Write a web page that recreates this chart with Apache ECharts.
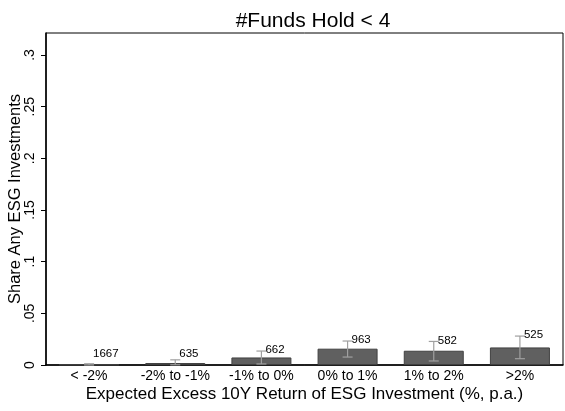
<!DOCTYPE html>
<html><head><meta charset="utf-8">
<script src="https://cdn.jsdelivr.net/npm/echarts@6/dist/echarts.min.js"></script>
<style>html,body{margin:0;padding:0;background:#fff}#c{width:565px;height:411px}</style>
</head><body><div id="c"></div>
<script>
var categories = ['< -2%', '-2% to -1%', '-1% to 0%', '0% to 1%', '1% to 2%', '>2%'];
var shares = [0.0004, 0.0019, 0.0073, 0.0158, 0.0138, 0.0170];
var ciLow = [0.0000, 0.0002, 0.0010, 0.0077, 0.0039, 0.0061];
var ciHigh = [0.0012, 0.0050, 0.0135, 0.0232, 0.0228, 0.0280];
var counts = [1667, 635, 662, 963, 582, 525];
var yTicks = [0, 0.05, 0.1, 0.15, 0.2, 0.25, 0.3];

var chart = echarts.init(document.getElementById('c'));
var font = 'Liberation Sans, Arial, sans-serif';
var errData = categories.map(function (c, i) { return [i, ciLow[i], ciHigh[i], counts[i]]; });

chart.setOption({
  animation: false,
  title: { text: '#Funds Hold < 4', left: 308, top: 6, textAlign: 'center',
    textStyle: { fontFamily: font, fontSize: 21, fontWeight: 'normal', color: '#000' } },
  grid: { left: 46, right: 2, top: 33, bottom: 46, show: true, borderColor: '#000', borderWidth: 1,
    outerBoundsMode: 'none', containLabel: false },
  xAxis: {
    type: 'category', data: categories,
    axisLine: { lineStyle: { color: '#000', width: 1.5 } },
    axisTick: { show: false },
    axisLabel: { fontFamily: font, fontSize: 14, color: '#000', margin: 4, interval: 0 },
    name: 'Expected Excess 10Y Return of ESG Investment (%, p.a.)',
    nameLocation: 'middle', nameGap: 21, nameMoveOverlap: false,
    nameTextStyle: { fontFamily: font, fontSize: 17, color: '#000' }
  },
  yAxis: {
    type: 'value', min: 0, max: 0.3213, interval: 0.05,
    axisLine: { show: true, lineStyle: { color: '#000', width: 1.5 } },
    axisTick: { show: true, inside: false, length: 5, lineStyle: { color: '#000' },
      customValues: yTicks },
    splitLine: { show: false },
    axisLabel: { fontFamily: font, fontSize: 14, color: '#000', rotate: 90, margin: 9,
      customValues: yTicks,
      formatter: function (v) { return v === 0 ? '0' : String(+v.toFixed(2)).replace(/^0/, ''); } },
    name: 'Share Any ESG Investments', nameLocation: 'middle', nameGap: 22, nameMoveOverlap: false,
    nameTextStyle: { fontFamily: font, fontSize: 16.5, color: '#000' }
  },
  series: [
    { type: 'bar', data: shares, barWidth: 60,
      itemStyle: { color: '#606060', borderColor: '#404040', borderWidth: 1 } },
    { type: 'custom', data: errData, z: 5,
      renderItem: function (params, api) {
        var i = api.value(0);
        var lo = api.coord([i, api.value(1)]);
        var hi = api.coord([i, api.value(2)]);
        var lab = api.coord([i, Math.max(api.value(2), 0.0095)]);
        var w = 5;
        return { type: 'group', children: [
          { type: 'line', shape: { x1: lo[0], y1: lo[1], x2: hi[0], y2: hi[1] }, style: { stroke: '#a0a0a0', lineWidth: 1.2 } },
          { type: 'line', shape: { x1: lo[0] - w, y1: lo[1], x2: lo[0] + w, y2: lo[1] }, style: { stroke: '#a0a0a0', lineWidth: 1.2 } },
          { type: 'line', shape: { x1: hi[0] - w, y1: hi[1], x2: hi[0] + w, y2: hi[1] }, style: { stroke: '#a0a0a0', lineWidth: 1.2 } },
          { type: 'text', x: lab[0] + 4, y: lab[1] - 1, style: { text: String(api.value(3)), fontFamily: font, fontSize: 11.5, fill: '#000', textAlign: 'left', textVerticalAlign: 'middle' } }
        ] };
      } }
  ]
});
</script></body></html>
